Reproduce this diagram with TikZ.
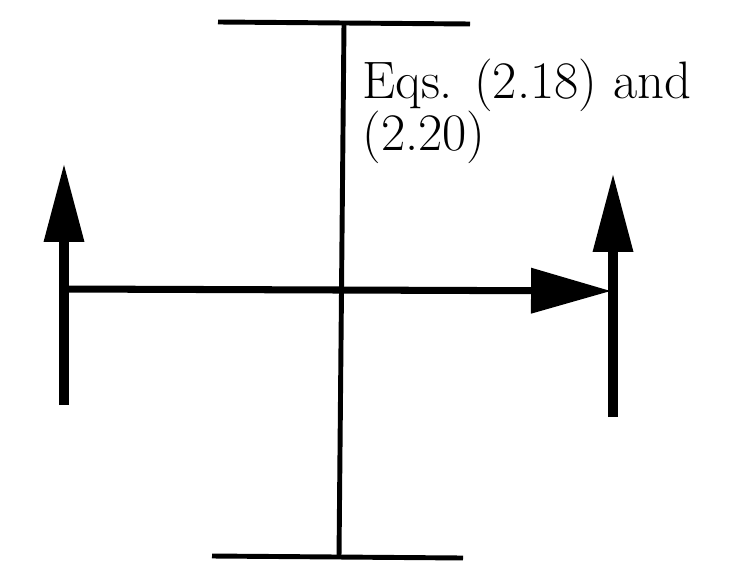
\documentclass[tikz,border=0pt]{standalone}
\usetikzlibrary{arrows.meta}
\newcommand\eqsfont{\fontsize{30}{30}\selectfont}
\begin{document}
\begin{tikzpicture}[x=0.02cm,y=-0.02cm,
		bar/.style={line width=2.8pt},
		uparrow/.style={line width=5.6pt,-{Triangle[length=1.58cm,width=0.76cm]}},
		flowarrow/.style={line width=4pt,-{Triangle[length=1.6cm,width=0.88cm]}},
		eqlabel/.style={anchor=base west,align=left,inner sep=0pt,font=\eqsfont}]
	\useasboundingbox (0,0) rectangle (732,574);
	\coordinate (topl) at (218,22);
	\coordinate (topr) at (470,24);
	\coordinate (botl) at (212,556);
	\coordinate (botr) at (463,558);
	\coordinate (axtop) at (344,23);
	\coordinate (axbot) at (339,557);
	\coordinate (lbot) at (64,405);
	\coordinate (ltop) at (64,163);
	\coordinate (rbot) at (613,417);
	\coordinate (rtop) at (613,173);
	\coordinate (hstart) at (64,289);
	\coordinate (hend) at (611,291);
	\draw[bar] (topl) -- (topr);
	\draw[bar] (botl) -- (botr);
	\draw[bar] (axtop) -- (axbot);
	\draw[uparrow] (lbot) -- (ltop);
	\draw[uparrow] (rbot) -- (rtop);
	\draw[flowarrow] (hstart) -- (hend);
	\node[eqlabel] (eqs) at (362,151) {Eqs. (2.18) and\\(2.20)};
\end{tikzpicture}
\end{document}
